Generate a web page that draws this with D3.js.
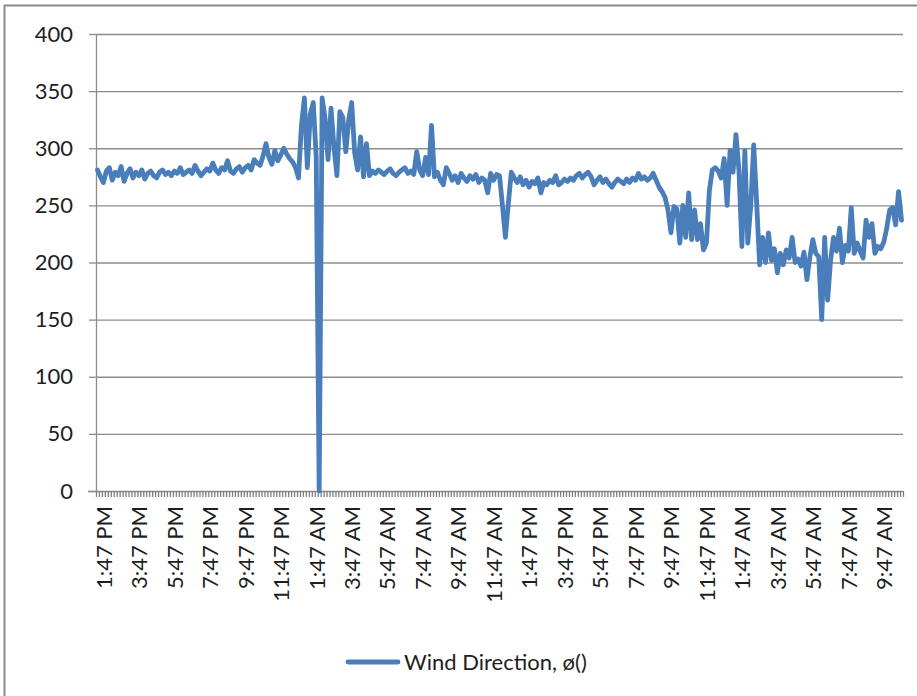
<!DOCTYPE html>
<html>
<head>
<meta charset="utf-8">
<script src="https://cdn.jsdelivr.net/npm/d3@7"></script>
<style>
  body { margin: 0; background: #fff; }
  svg { display: block; font-family: Lato, "Open Sans", sans-serif; }
</style>
</head>
<body>
<svg id="chart" width="917" height="696"></svg>
<script>
// Wind direction readings, one every 10 minutes starting 1:47 PM
const startTime = "1:47 PM";
const stepMinutes = 10;
const windDirection = [
  281, 275, 270, 280, 283, 272, 279, 276, 284, 271,
  278, 282, 274, 279, 276, 281, 273, 278, 280, 276,
  274, 279, 281, 277, 279, 276, 280, 278, 283, 277,
  279, 281, 278, 285, 280, 276, 279, 282, 280, 287,
  281, 278, 283, 281, 289, 280, 278, 282, 284, 279,
  283, 285, 281, 290, 287, 285, 293, 304, 292, 286,
  298, 289, 294, 300, 295, 291, 288, 283,
  274, 320, 344, 283, 330, 340, 292, 0, 344, 326, 290, 335,
  301, 276, 332, 327, 297, 325, 340, 296, 281, 310, 275, 304, 276,
  280, 278, 281, 279, 277, 280, 282, 278, 276, 279, 281, 283, 278, 280, 277,
  297, 281, 276, 292, 277, 320, 275, 279, 272, 268, 283, 278,
  272, 276, 270, 278, 274, 271, 276, 273, 277, 270, 274, 272,
  261, 278, 272, 277, 276, 250, 222, 252, 279, 274,
  270, 275, 268, 272, 266, 271, 269, 274, 261, 270, 268, 272,
  270, 276, 268, 270, 273, 271, 274, 272, 276, 278, 274, 277, 279, 275,
  268, 272, 275, 270, 273, 269, 266, 270, 273, 271, 269, 273, 270, 274, 272,
  278, 273, 275, 272, 274, 278, 272, 266, 262, 257, 246,
  226, 249, 247, 217, 250, 222, 261, 220, 246, 220, 234, 211, 217, 263,
  281, 283, 280, 274, 291, 250, 298, 279, 312, 281, 214, 298, 217, 250, 303, 252,
  198, 222, 200, 226, 202, 212, 191, 208, 198, 211, 204, 222, 200, 203, 197, 209,
  185, 205, 220, 208, 205, 150, 222, 167, 202, 222, 210, 230, 200, 215, 210, 248,
  208, 217, 210, 204, 237, 222, 234, 208, 214, 212, 218, 230, 246, 248, 233, 262, 237
];
const tickLabels = [
  "1:47 PM", "3:47 PM", "5:47 PM", "7:47 PM", "9:47 PM", "11:47 PM",
  "1:47 AM", "3:47 AM", "5:47 AM", "7:47 AM", "9:47 AM", "11:47 AM",
  "1:47 PM", "3:47 PM", "5:47 PM", "7:47 PM", "9:47 PM", "11:47 PM",
  "1:47 AM", "3:47 AM", "5:47 AM", "7:47 AM", "9:47 AM"
];
const labelEvery = 12;
const yTicks = [0, 50, 100, 150, 200, 250, 300, 350, 400];
const seriesName = "Wind Direction, \u00f8()";

// Category labels (clock times) for each reading
const parseClock = d3.timeParse("%I:%M %p");
const fmtClock = d3.timeFormat("%-I:%M %p");
const t0 = parseClock(startTime);
const categories = windDirection.map((_, i) => fmtClock(d3.timeMinute.offset(t0, i * stepMinutes)));

const svg = d3.select("#chart");
const plot = { left: 96, right: 903, top: 34, bottom: 491 };
const blue = "#4a7ebb";
const gridGrey = "#8c8c8c";
const textColor = "#1e1e1e";
const fontSize = 22;

// chart area frame
svg.append("rect")
  .attr("x", 4.5).attr("y", 5.5)
  .attr("width", 1000).attr("height", 1000)
  .attr("fill", "#fff")
  .attr("stroke", "#8a8a8a").attr("stroke-width", 2);

const x = d3.scaleBand()
  .domain(categories.map((_, i) => i))
  .range([plot.left, plot.right])
  .paddingInner(0).paddingOuter(0);
const xEdge = d3.scaleLinear()
  .domain([0, categories.length])
  .range([plot.left, plot.right]);
const y = d3.scaleLinear().domain([0, 400]).range([plot.bottom, plot.top]);

// horizontal gridlines
svg.append("g")
  .attr("transform", `translate(${plot.left},0)`)
  .call(d3.axisLeft(y).tickValues(yTicks.filter(v => v > 0)).tickSize(-(plot.right - plot.left)).tickFormat(""))
  .call(g => g.select(".domain").remove())
  .call(g => g.selectAll("line").attr("stroke", gridGrey).attr("stroke-width", 1.3));

// y axis
const yAxis = svg.append("g")
  .attr("transform", `translate(${plot.left},0)`)
  .call(d3.axisLeft(y).tickValues(yTicks).tickSize(7).tickPadding(16));
yAxis.select(".domain").attr("stroke", gridGrey).attr("stroke-width", 1.3).attr("d", `M0.5,${plot.top}V${plot.bottom}`);
yAxis.selectAll(".tick line").attr("stroke", gridGrey).attr("stroke-width", 1.3);
yAxis.selectAll(".tick text")
  .attr("fill", textColor).attr("font-size", fontSize)
  .attr("font-family", "Lato, 'Open Sans', sans-serif");

// x axis with a tick mark between every category
const xAxis = svg.append("g")
  .attr("transform", `translate(0,${plot.bottom})`)
  .call(d3.axisBottom(xEdge).tickValues(d3.range(categories.length + 1)).tickSize(6).tickFormat(""));
xAxis.select(".domain").attr("stroke", gridGrey).attr("stroke-width", 1.3)
  .attr("d", `M${plot.left - 8},0.5H${plot.right}`);
xAxis.selectAll(".tick line").attr("stroke", "#7e7e7e").attr("stroke-width", 1.3);

// rotated time labels every two hours
svg.append("g").selectAll("text")
  .data(tickLabels)
  .join("text")
  .attr("transform", (d, k) => `translate(${x(k * labelEvery) + x.bandwidth() / 2 + 6.5},${plot.bottom + 15}) rotate(-90)`)
  .attr("text-anchor", "end")
  .attr("dy", "0.35em")
  .attr("font-size", fontSize)
  .attr("fill", textColor)
  .text(d => d);

// data line
const line = d3.line()
  .x((d, i) => x(i) + x.bandwidth() / 2)
  .y(d => y(d));
svg.append("path")
  .datum(windDirection)
  .attr("d", line)
  .attr("fill", "none")
  .attr("stroke", blue)
  .attr("stroke-width", 4.8)
  .attr("stroke-linejoin", "round")
  .attr("stroke-linecap", "round");

// legend
const legend = svg.append("g").attr("transform", "translate(348,662)");
legend.append("line")
  .attr("x1", 0).attr("x2", 50).attr("y1", 0).attr("y2", 0)
  .attr("stroke", blue).attr("stroke-width", 4.8).attr("stroke-linecap", "round");
legend.append("text")
  .attr("x", 56).attr("dy", "0.35em")
  .attr("font-size", fontSize).attr("fill", textColor)
  .text(seriesName);
</script>
</body>
</html>
